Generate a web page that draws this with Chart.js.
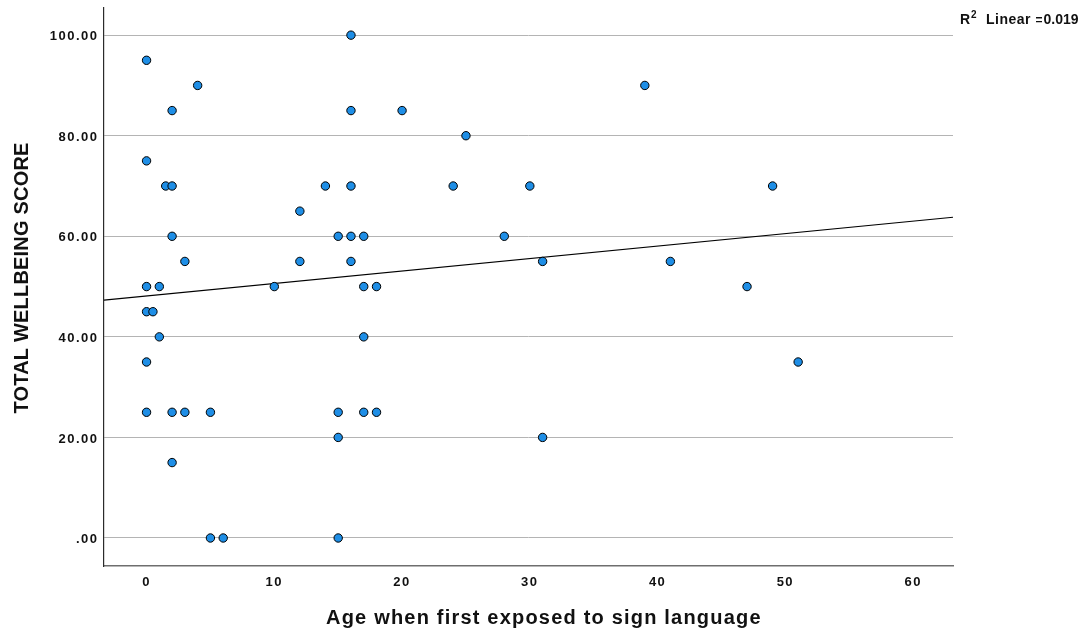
<!DOCTYPE html>
<html><head><meta charset="utf-8">
<script src="https://cdn.jsdelivr.net/npm/chart.js@4/dist/chart.umd.min.js"></script>
<style>html,body{margin:0;padding:0;background:#fff;} #wrap{width:1089px;height:637px;}</style>
</head><body><div id="wrap"><canvas id="c" width="1089" height="637"></canvas></div>
<script>
// ---- data ----
const ageValues   = [0, 0, 0, 0, 0, 0, 0.5, 1, 1, 1.5, 2, 2, 2, 2, 2, 3, 3, 4, 5, 5, 6, 10, 12, 12, 14, 15, 15, 15, 15, 16, 16, 16, 16, 16, 17, 17, 17, 17, 18, 18, 20, 24, 25, 28, 30, 31, 31, 39, 41, 47, 49, 51];
const scoreValues = [95, 75, 50, 45, 35, 25, 45, 50, 40, 70, 70, 85, 60, 25, 15, 55, 25, 90, 25, 0, 0, 50, 65, 55, 70, 60, 25, 20, 0, 100, 85, 70, 60, 55, 60, 50, 40, 25, 50, 25, 85, 70, 80, 60, 70, 55, 20, 90, 55, 50, 70, 35];
const xTickValues = [0, 10, 20, 30, 40, 50, 60];
const yTickValues = [0, 20, 40, 60, 80, 100];
const yTickLabels = ['.00', '20.00', '40.00', '60.00', '80.00', '100.00'];
const xRange = [-3.33, 63.12];
const yRange = [-5.57, 105.4];
const fitIntercept = 48.13;
const fitSlope = 0.248;
const xAxisTitle = 'Age when first exposed to sign language';
const yAxisTitle = 'TOTAL WELLBEING SCORE';
const fitLabelParts = ['R', '2', 'Linear', '=', '0.019'];

const points = ageValues.map((a, i) => ({x: a, y: scoreValues[i]}));
const fitPoints = xRange.map(x => ({x: x, y: fitIntercept + fitSlope * x}));

const FONT = "'Liberation Sans', Arial, sans-serif";

const spacingPlugin = {
  id: 'spacing',
  beforeDraw(chart) { chart.ctx.letterSpacing = '1.5px'; },
  beforeDatasetsDraw(chart) { chart.ctx.letterSpacing = '0px'; },
  afterDraw(chart) {
    const ctx = chart.ctx;
    ctx.save();
    ctx.fillStyle = '#111';
    // x axis title
    ctx.font = 'bold 20px ' + FONT;
    ctx.letterSpacing = '1.2px';
    ctx.textAlign = 'left';
    ctx.textBaseline = 'alphabetic';
    ctx.fillText(xAxisTitle, 326, 624);
    // y axis title
    ctx.save();
    ctx.letterSpacing = '0.2px';
    ctx.translate(27.5, 278);
    ctx.rotate(-Math.PI / 2);
    ctx.textAlign = 'center';
    ctx.fillText(yAxisTitle, 0, 0);
    ctx.restore();
    // R2 label
    ctx.letterSpacing = '0px';
    ctx.textAlign = 'left';
    ctx.font = 'bold 14px ' + FONT;
    ctx.fillText(fitLabelParts[0], 960, 24);
    ctx.font = 'bold 10px ' + FONT;
    ctx.fillText(fitLabelParts[1], 971, 18);
    ctx.font = 'bold 14px ' + FONT;
    ctx.letterSpacing = '0.5px';
    ctx.fillText(fitLabelParts[2], 986, 24);
    ctx.letterSpacing = '0px';
    ctx.font = 'bold 12px ' + FONT;
    ctx.fillText(fitLabelParts[3], 1035.5, 23.5);
    ctx.font = 'bold 14px ' + FONT;
    ctx.fillText(fitLabelParts[4], 1043.5, 24);
    ctx.restore();
  }
};

new Chart(document.getElementById('c'), {
  type: 'scatter',
  data: {
    datasets: [
      {
        type: 'scatter',
        data: points,
        backgroundColor: '#1e8ee6',
        borderColor: '#000',
        borderWidth: 1,
        pointRadius: 4.2,
        order: 0
      },
      {
        type: 'line',
        data: fitPoints,
        borderColor: '#000',
        borderWidth: 1.2,
        pointRadius: 0,
        fill: false,
        tension: 0,
        order: 1
      }
    ]
  },
  options: {
    responsive: false,
    devicePixelRatio: 1,
    animation: false,
    layout: { padding: { top: 8, right: 136, left: 0, bottom: 0 } },
    plugins: { legend: { display: false }, tooltip: { enabled: false } },
    scales: {
      x: {
        type: 'linear',
        min: xRange[0],
        max: xRange[1],
        afterBuildTicks: s => { s.ticks = xTickValues.map(v => ({value: v})); },
        afterFit: s => { s.height = 71; s.paddingLeft = 0; s.paddingRight = 0; },
        grid: { display: false, drawTicks: false },
        border: { display: true, color: '#6e6e6e', width: 1.5 },
        ticks: {
          padding: 9,
          color: '#111',
          font: { family: FONT, size: 13, weight: 'bold' },
          maxRotation: 0,
          callback: v => String(v)
        },
        title: { display: false }
      },
      y: {
        type: 'linear',
        min: yRange[0],
        max: yRange[1],
        afterBuildTicks: s => { s.ticks = yTickValues.map(v => ({value: v})); },
        afterFit: s => { s.width = 104; s.paddingTop = 0; s.paddingBottom = 0; },
        grid: { display: true, drawTicks: false, color: '#b4b4b4', lineWidth: 1 },
        border: { display: true, color: '#2b2b2b', width: 1.2 },
        ticks: {
          padding: 5.5,
          labelOffset: 1.5,
          color: '#111',
          font: { family: FONT, size: 13, weight: 'bold' },
          callback: v => yTickLabels[yTickValues.indexOf(v)]
        },
        title: { display: false }
      }
    }
  },
  plugins: [spacingPlugin]
});
</script>
</body></html>
